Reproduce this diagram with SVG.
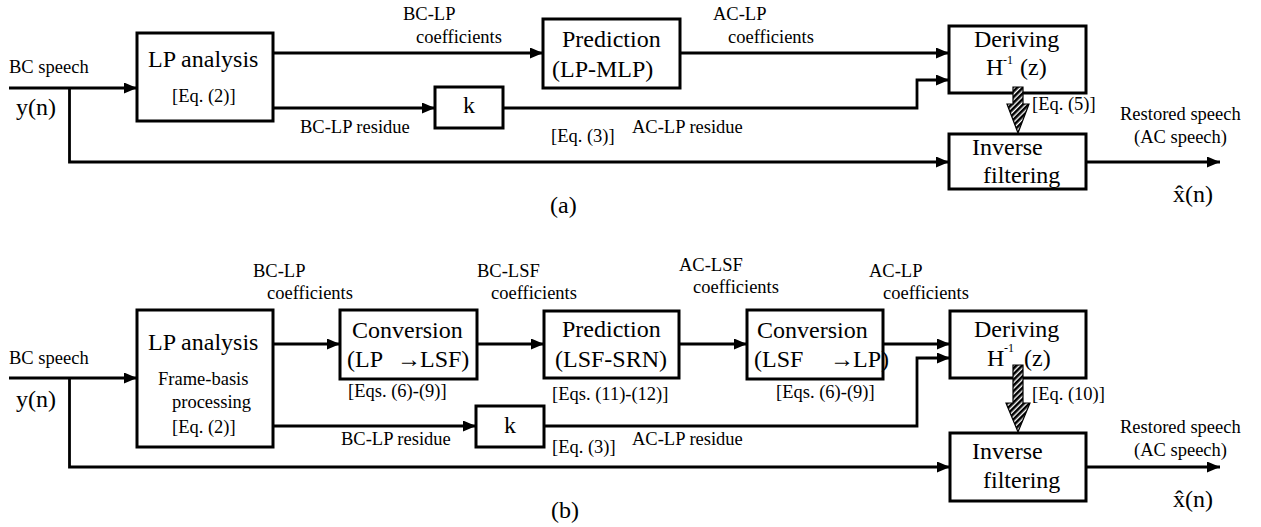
<svg xmlns="http://www.w3.org/2000/svg" width="1261" height="527" viewBox="0 0 1261 527" font-family="'Liberation Serif', 'DejaVu Serif', serif">
<style>
text{font-family:"Liberation Serif","DejaVu Serif",serif;fill:#000}
.big{font-size:24px}
.sm{font-size:18.5px}
.sup{font-size:12px}
.box{fill:#fff;stroke:#000;stroke-width:3}
.ln{fill:none;stroke:#000;stroke-width:2.8}
.ar{marker-end:url(#ah)}
.hatch{fill:url(#hp);stroke:#000;stroke-width:1.2}
</style>
<defs>
<marker id="ah" markerUnits="userSpaceOnUse" markerWidth="13" markerHeight="11" refX="13" refY="5.5" orient="auto">
<path d="M0,0 L13,5.5 L0,11 Z" fill="#000"/>
</marker>
<pattern id="hp" patternUnits="userSpaceOnUse" width="4" height="4" patternTransform="rotate(45)">
<rect width="4" height="4" fill="#fff"/>
<rect width="2.6" height="4" fill="#000"/>
</pattern>
</defs>
<rect width="1261" height="527" fill="#fff"/>

<g id="connectors">
<path class="ln ar" d="M9,88 H137"/>
<path class="ln ar" d="M69.5,88 V162 H949"/>
<path class="ln ar" d="M273,53 H543"/>
<path class="ln ar" d="M273,108 H435"/>
<path class="ln ar" d="M680,53 H949"/>
<path class="ln ar" d="M503,108 H917 V80 H949"/>
<path class="ln ar" d="M1086,162 H1220"/>
<path class="ln ar" d="M9,378 H137"/>
<path class="ln ar" d="M69.5,378 V467 H950"/>
<path class="ln ar" d="M273,344 H340"/>
<path class="ln ar" d="M477,344 H544"/>
<path class="ln ar" d="M679,344 H747"/>
<path class="ln ar" d="M883,344 H950"/>
<path class="ln ar" d="M273,426 H476"/>
<path class="ln ar" d="M544,426 H917 V358 H950"/>
<path class="ln ar" d="M1086,467 H1220"/>
</g>

<g id="a-lp-analysis">
<rect class="box" x="137" y="33" width="136" height="88"/>
<text class="big" x="148" y="67">LP analysis</text>
<text class="sm" x="172" y="102">[Eq. (2)]</text>
</g>
<g id="a-prediction">
<rect class="box" x="543" y="19" width="137" height="69"/>
<text class="big" x="562" y="47">Prediction</text>
<text class="big" x="552" y="77">(LP-MLP)</text>
</g>
<g id="a-k">
<rect class="box" x="435" y="87" width="68" height="41"/>
<text class="big" x="469" y="113" text-anchor="middle">k</text>
</g>
<g id="a-deriving">
<rect class="box" x="949" y="26" width="137" height="67"/>
<text class="big" x="974" y="47">Deriving</text>
<text class="big" x="986" y="75">H</text>
<text class="sup" x="1003" y="64">-1</text>
<text class="big" x="1020" y="75">(z)</text>
</g>
<g id="a-inverse">
<rect class="box" x="949" y="134" width="137" height="55"/>
<text class="big" x="972" y="155">Inverse</text>
<text class="big" x="983" y="183">filtering</text>
</g>
<g id="a-hatched-arrow">
<path class="hatch" d="M1013,87 H1023 V104 H1029 L1018,133 L1007,104 H1013 Z"/>
</g>
<g id="a-labels">
<text class="sm" x="9" y="73">BC speech</text>
<text class="big" x="16" y="115">y(n)</text>
<text class="sm" x="403" y="20">BC-LP</text>
<text class="sm" x="416" y="43">coefficients</text>
<text class="sm" x="713" y="20">AC-LP</text>
<text class="sm" x="728" y="43">coefficients</text>
<text class="sm" x="300" y="133">BC-LP residue</text>
<text class="sm" x="551" y="142">[Eq. (3)]</text>
<text class="sm" x="632" y="133">AC-LP residue</text>
<text class="sm" x="1032" y="110">[Eq. (5)]</text>
<text class="sm" x="1120" y="120">Restored speech</text>
<text class="sm" x="1134" y="143">(AC speech)</text>
<text class="big" x="1173" y="202">x̂(n)</text>
<text class="big" x="550" y="213">(a)</text>
</g>

<g id="b-lp-analysis">
<rect class="box" x="137" y="310" width="136" height="137"/>
<text class="big" x="148" y="350">LP analysis</text>
<text class="sm" x="158" y="385">Frame-basis</text>
<text class="sm" x="172" y="408">processing</text>
<text class="sm" x="172" y="433">[Eq. (2)]</text>
</g>
<g id="b-conversion1">
<rect class="box" x="340" y="310" width="137" height="69"/>
<text class="big" x="352" y="338">Conversion</text>
<text class="big" y="367"><tspan x="347">(LP</tspan><tspan x="397">→</tspan><tspan x="420">LSF)</tspan></text>
</g>
<g id="b-prediction">
<rect class="box" x="544" y="311" width="135" height="67"/>
<text class="big" x="562" y="337">Prediction</text>
<text class="big" x="555" y="367">(LSF-SRN)</text>
</g>
<g id="b-conversion2">
<rect class="box" x="747" y="310" width="136" height="69"/>
<text class="big" x="757" y="338">Conversion</text>
<text class="big" y="367"><tspan x="754">(LSF</tspan><tspan x="830">→</tspan><tspan x="853">LP)</tspan></text>
</g>
<g id="b-k">
<rect class="box" x="476" y="406" width="68" height="41"/>
<text class="big" x="510" y="433" text-anchor="middle">k</text>
</g>
<g id="b-deriving">
<rect class="box" x="950" y="311" width="136" height="67"/>
<text class="big" x="974" y="337">Deriving</text>
<text class="big" x="987" y="366">H</text>
<text class="sup" x="1004" y="352">-1</text>
<text class="big" x="1024" y="366">(z)</text>
</g>
<g id="b-inverse">
<rect class="box" x="950" y="433" width="136" height="68"/>
<text class="big" x="972" y="459">Inverse</text>
<text class="big" x="983" y="488">filtering</text>
</g>
<g id="b-hatched-arrow">
<path class="hatch" d="M1013,365 H1023 V403 H1030 L1018,432 L1006,403 H1013 Z"/>
</g>
<g id="b-labels">
<text class="sm" x="9" y="364">BC speech</text>
<text class="big" x="16" y="407">y(n)</text>
<text class="sm" x="253" y="277">BC-LP</text>
<text class="sm" x="267" y="299">coefficients</text>
<text class="sm" x="477" y="277">BC-LSF</text>
<text class="sm" x="491" y="299">coefficients</text>
<text class="sm" x="679" y="271">AC-LSF</text>
<text class="sm" x="693" y="293">coefficients</text>
<text class="sm" x="869" y="277">AC-LP</text>
<text class="sm" x="883" y="299">coefficients</text>
<text class="sm" x="348" y="397">[Eqs. (6)-(9)]</text>
<text class="sm" x="552" y="400">[Eqs. (11)-(12)]</text>
<text class="sm" x="776" y="398">[Eqs. (6)-(9)]</text>
<text class="sm" x="341" y="445">BC-LP residue</text>
<text class="sm" x="552" y="453">[Eq. (3)]</text>
<text class="sm" x="632" y="445">AC-LP residue</text>
<text class="sm" x="1032" y="400">[Eq. (10)]</text>
<text class="sm" x="1120" y="433">Restored speech</text>
<text class="sm" x="1134" y="456">(AC speech)</text>
<text class="big" x="1173" y="507">x̂(n)</text>
<text class="big" x="551" y="518">(b)</text>
</g>
</svg>
